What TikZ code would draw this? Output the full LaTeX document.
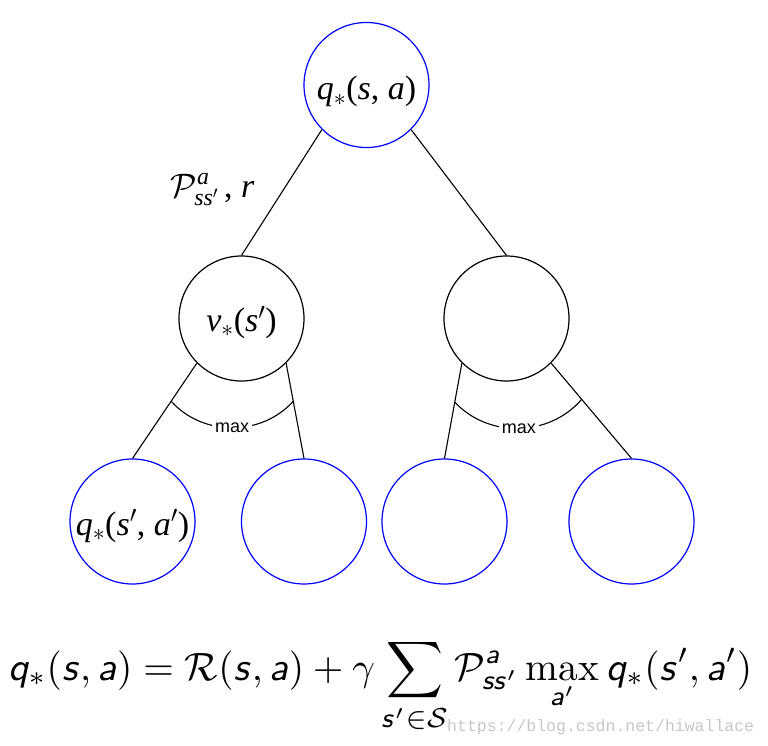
\RequirePackage{fix-cm}
\documentclass[tikz,border=0pt]{standalone}
\usepackage{amsmath}
\usepackage{fontspec}
\newfontfamily\tms{Liberation Serif}
\newfontfamily\arl{Liberation Sans}
\newfontfamily\mono{Liberation Mono}
\DeclareMathAlphabet{\mathss}{OT1}{cmss}{m}{sl}
\newcommand{\iq}[1]{{\itshape #1}}
\begin{document}
\begin{tikzpicture}[x=1pt,y=-1pt,
  bnode/.style={circle,draw=blue,line width=1.2pt,minimum size=125pt,inner sep=0pt},
  knode/.style={circle,draw=black,line width=1.2pt,minimum size=125pt,inner sep=0pt},
  edge/.style={line width=1.1pt},
  lbl/.style={font=\tms\fontsize{34}{40}\selectfont,inner sep=0pt,anchor=base},
  maxl/.style={font=\arl\fontsize{18}{20}\selectfont,fill=white,inner sep=3pt}]
\useasboundingbox (0,0) rectangle (768,746);
\node[bnode] (t) at (366.5,85) {};
\node[knode] (m1) at (241.5,318.5) {};
\node[knode] (m2) at (506.5,318.5) {};
\node[bnode] (b1) at (132.5,521.5) {};
\node[bnode] (b2) at (304,521.5) {};
\node[bnode] (b3) at (444.5,521.5) {};
\node[bnode] (b4) at (631.5,521.5) {};
\node[lbl] (lt) at ([yshift=-15pt]t.center) {\iq{q}$_{\ast}$(\iq{s}, \iq{a})};
\node[lbl] (lm) at ([yshift=-13pt]m1.center) {\iq{v}$_{\ast}$(\iq{s}$'$)};
\node[lbl] (lb) at ([yshift=-13.5pt]b1.center) {\iq{q}$_{\ast}$(\iq{s}$'$, \iq{a}$'$)};
\node[lbl] (lp) at (212.5,197) {$\mathcal{P}^{\text{\itshape a}}_{\text{\itshape ss}'}$\,, \iq{r}};
\draw[edge] (t.south west) -- (m1.north);
\draw[edge] (t.south east) -- (m2.north);
\draw[edge] (m1.south west) -- coordinate[pos=0.4] (p1) (b1.north);
\draw[edge] (m1.south east) -- coordinate[pos=0.4] (p2) (b2.north);
\draw[edge] (m2.south west) -- coordinate[pos=0.41] (p3) (b3.north);
\draw[edge] (m2.south east) -- coordinate[pos=0.38] (p4) (b4.north);
\draw[edge] (p1) to[bend right=48] node[maxl] (x1) {max} (p2);
\draw[edge] (p3) to[bend right=48] node[maxl] (x2) {max} (p4);
\node[anchor=base west,inner sep=0pt] (eq) at (8,680) {\resizebox{744pt}{!}{$\displaystyle \mathss{q}_*(\mathss{s},\mathss{a}) = \mathcal{R}(\mathss{s},\mathss{a}) + \gamma \sum_{\mathss{s}'\in\mathcal{S}} \mathcal{P}^{\mathss{a}}_{\mathss{ss}'} \max_{\mathss{a}'} \mathss{q}_*(\mathss{s}',\mathss{a}')$}};
\node[anchor=base west,inner sep=0pt,font=\mono\fontsize{16.5}{18}\selectfont,text=black!22] (wm) at (447,731.7) {https://blog.csdn.net/hiwallace};
\end{tikzpicture}
\end{document}
